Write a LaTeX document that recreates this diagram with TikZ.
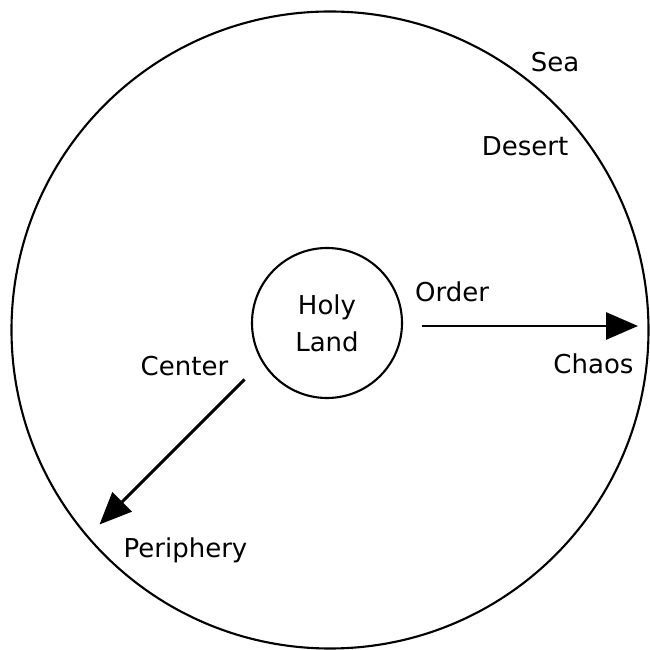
\documentclass[tikz,border=0pt]{standalone}
\usepackage{fontspec}
\setmainfont{DejaVu Sans}
\usetikzlibrary{arrows.meta}

\begin{document}
\begin{tikzpicture}[
  every node/.style={font=\fontsize{14.8}{21}\selectfont},
  flow/.style={line width=1.7pt,-{Triangle[length=0.64cm,width=0.54cm]}}]
\useasboundingbox (-6.6,-6.4) rectangle (6.4,6.6);
\coordinate (O) at (0,0);
\coordinate (A) at (1.84,0.08);
\coordinate (B) at (6.16,0.08);
\coordinate (C) at (-1.71,-0.99);
\coordinate (D) at (-4.61,-3.89);
\draw[line width=1.2pt] (O) circle (6.37);
\node[draw,circle,line width=1.2pt,minimum size=3cm,inner sep=0pt,align=center] (land) at (-0.06,0.14) {Holy\\Land};
\draw[flow] (A)--(B);
\draw[flow] (C)--(D);
\node (sea) at (4.5,5.36) {Sea};
\node (desert) at (3.9,3.68) {Desert};
\node (order) at (2.44,0.77) {Order};
\node (chaos) at (5.27,-0.67) {Chaos};
\node (center) at (-2.91,-0.73) {Center};
\node (periphery) at (-2.89,-4.4) {Periphery};
\end{tikzpicture}
\end{document}
